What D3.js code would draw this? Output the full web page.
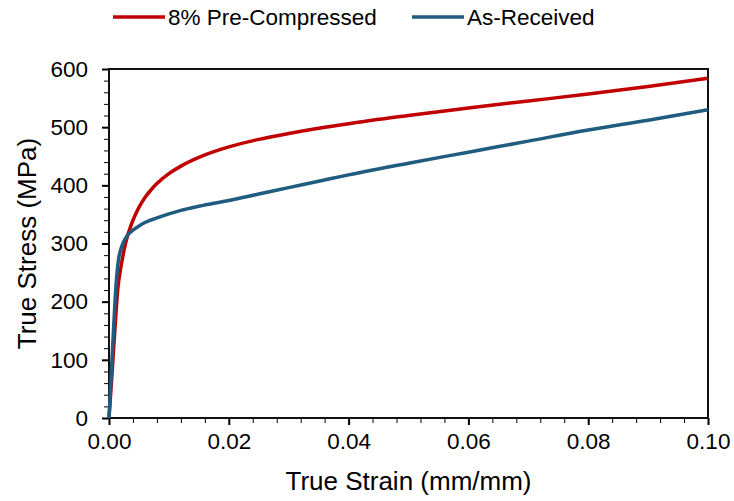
<!DOCTYPE html>
<html>
<head>
<meta charset="utf-8">
<script src="https://cdn.jsdelivr.net/npm/d3@7"></script>
<style>
  body { margin: 0; background: #fff; }
  text { font-family: "Liberation Sans", Arial, sans-serif; fill: #000; }
</style>
</head>
<body>
<svg id="chart" width="734" height="501"></svg>
<script>
// series names
var seriesNames = ['8% Pre-Compressed', 'As-Received'];

// 8% pre-compressed: strain / stress
var preStrain = [0, 0.0005, 0.001, 0.0015, 0.002, 0.0025, 0.003, 0.0035, 0.004, 0.005, 0.006, 0.007, 0.008, 0.01, 0.012, 0.015, 0.02, 0.025, 0.03, 0.035, 0.04, 0.05, 0.06, 0.07, 0.08, 0.09, 0.1];
var preStress = [0, 75, 155, 225, 260, 288, 310, 326, 340, 362, 379, 392, 403, 420, 433, 448, 466, 479, 489, 498, 506, 520, 533, 545, 557, 570, 584];

// as-received: strain / stress
var recStrain = [0, 0.0005, 0.001, 0.0013, 0.0016, 0.002, 0.0025, 0.003, 0.004, 0.005, 0.006, 0.008, 0.01, 0.012, 0.015, 0.02, 0.025, 0.03, 0.035, 0.04, 0.05, 0.06, 0.07, 0.08, 0.09, 0.1];
var recStress = [0, 100, 200, 245, 273, 291, 304, 313, 323, 330, 336, 344, 351, 357, 364, 374, 385, 396, 407, 418, 438, 457, 476, 495, 512, 530];

var xTicks = [0, 0.02, 0.04, 0.06, 0.08, 0.1];
var yTicks = [0, 100, 200, 300, 400, 500, 600];

var colors = ['#c00000', '#1f5c80'];

var svg = d3.select('#chart');
var margin = { left: 109, right: 26, top: 69, bottom: 83 };
var w = 734 - margin.left - margin.right,
  h = 501 - margin.top - margin.bottom;

var x = d3.scaleLinear().domain([0, 0.1]).range([0, w]);
var y = d3.scaleLinear().domain([0, 600]).range([h, 0]);

var g = svg.append('g')
  .attr('transform', 'translate(' + margin.left + ',' + margin.top + ')');

// minor ticks first, major on top
g.append('g')
  .attr('transform', 'translate(0,' + h + ')')
  .call(d3.axisBottom(x).tickValues(d3.range(0, 0.1001, 0.004)).tickSize(5).tickFormat(''))
  .call(function(a) { a.select('.domain').remove(); });
g.append('g')
  .call(d3.axisLeft(y).tickValues(d3.range(0, 601, 20)).tickSize(5).tickFormat(''))
  .call(function(a) { a.select('.domain').remove(); });

var xAxis = g.append('g')
  .attr('transform', 'translate(0,' + h + ')')
  .call(d3.axisBottom(x).tickValues(xTicks).tickSize(7).tickPadding(8).tickFormat(d3.format('.2f')));
var yAxis = g.append('g')
  .call(d3.axisLeft(y).tickValues(yTicks).tickSize(7).tickPadding(14));

[xAxis, yAxis].forEach(function(a) {
  a.selectAll('text').style('font-size', '22.5px').attr('fill', '#000');
  a.selectAll('line').attr('stroke', '#000').attr('stroke-width', 2);
  a.select('.domain').remove();
});

// frame
g.append('rect')
  .attr('width', w).attr('height', h)
  .attr('fill', 'none').attr('stroke', '#111').attr('stroke-width', 2);

var line = d3.line()
  .x(function(d) { return x(d[0]); })
  .y(function(d) { return y(d[1]); })
  .curve(d3.curveMonotoneX);

var series = [
  d3.zip(preStrain, preStress),
  d3.zip(recStrain, recStress)
];

series.forEach(function(s, i) {
  g.append('path')
    .datum(s)
    .attr('d', line)
    .attr('fill', 'none')
    .attr('stroke', colors[i])
    .attr('stroke-width', 3.5)
    .attr('stroke-linejoin', 'round');
});

// axis titles
svg.append('text')
  .attr('x', margin.left + w / 2)
  .attr('y', 490)
  .attr('text-anchor', 'middle')
  .style('font-size', '26px')
  .text('True Strain (mm/mm)');

svg.append('text')
  .attr('transform', 'translate(36,' + (margin.top + h / 2) + ') rotate(-90)')
  .attr('text-anchor', 'middle')
  .style('font-size', '26px')
  .text('True Stress (MPa)');

// legend
var legendX = [113, 412];
seriesNames.forEach(function(name, i) {
  var lg = svg.append('g').attr('transform', 'translate(' + legendX[i] + ',17)');
  lg.append('line')
    .attr('x1', 0).attr('x2', 52)
    .attr('stroke', colors[i]).attr('stroke-width', 3.5);
  lg.append('text')
    .attr('x', 55).attr('y', 8)
    .style('font-size', '22.5px')
    .text(name);
});
</script>
</body>
</html>
